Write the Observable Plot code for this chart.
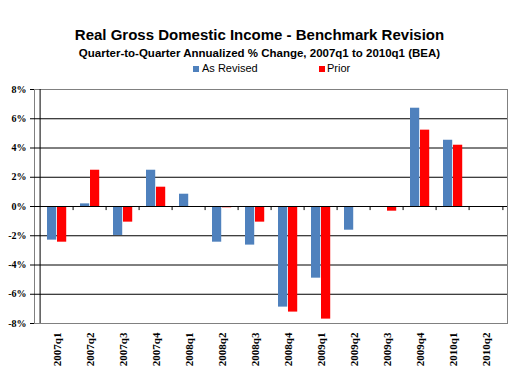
<!DOCTYPE html>
<html>
<head>
<meta charset="utf-8">
<script src="https://cdn.jsdelivr.net/npm/d3@7"></script>
<script src="https://cdn.jsdelivr.net/npm/@observablehq/plot@0.6"></script>
<style>
  html, body { margin: 0; padding: 0; background: #fff; }
  #wrap { position: relative; width: 516px; height: 376px; overflow: hidden; font-family: "Liberation Sans", Arial, sans-serif; }
  #head { position: relative; width: 516px; height: 80px; }
  .t { position: absolute; left: 0; width: 519px; text-align: center; white-space: nowrap; color: #000; }
  #title { top: 27.3px; font-size: 15px; line-height: 15px; font-weight: bold; }
  #sub { top: 48.3px; font-size: 11.5px; line-height: 11.5px; font-weight: bold; }
  .lg { position: absolute; font-size: 11px; line-height: 11px; top: 62.7px; white-space: nowrap; }
  .sw { position: absolute; width: 6px; height: 6px; top: 65.5px; }
  #chart svg { display: block; }
</style>
</head>
<body>
<div id="wrap">
  <div id="head">
    <div class="t" id="title">Real Gross Domestic Income - Benchmark Revision</div>
    <div class="t" id="sub">Quarter-to-Quarter Annualized % Change, 2007q1 to 2010q1 (BEA)</div>
    <div class="sw" style="left:193px;background:#4F81BD"></div>
    <div class="lg" style="left:202px">As Revised</div>
    <div class="sw" style="left:318.5px;background:#FF0000"></div>
    <div class="lg" style="left:327px">Prior</div>
  </div>
  <div id="chart"></div>
</div>
<script>
const quarters = ["2007q1","2007q2","2007q3","2007q4","2008q1","2008q2","2008q3","2008q4","2009q1","2009q2","2009q3","2009q4","2010q1","2010q2"];
const asRevised = [-2.30, 0.18, -1.98, 2.48, 0.84, -2.44, -2.64, -6.88, -4.90, -1.62, 0, 6.72, 4.53, null];
const prior = [-2.44, 2.48, -1.07, 1.32, 0, -0.09, -1.07, -7.22, -7.70, 0, -0.32, 5.22, 4.19, null];
const yTicks = [-8, -6, -4, -2, 0, 2, 4, 6, 8];
const gridTicks = [-6, -4, -2, 2, 4, 6];

const revRows = quarters.map((q, i) => ({q, v: asRevised[i]})).filter(d => d.v != null);
const priRows = quarters.map((q, i) => ({q, v: prior[i]})).filter(d => d.v != null);

const W = 516, ML = 34, MR = 9;
const bw = (W - ML - MR) / quarters.length;

const plot = Plot.plot({
  width: W,
  height: 296,
  marginLeft: ML,
  marginRight: MR,
  marginTop: 9,
  marginBottom: 53,
  style: {background: "#fff", color: "#000"},
  x: {type: "band", domain: quarters, padding: 0, label: null},
  y: {domain: [-8, 8], label: null},
  marks: [
    Plot.frame({stroke: "#808080"}),
    Plot.ruleY(gridTicks, {stroke: "#000", strokeWidth: 1}),
    Plot.barY(revRows, {x: "q", y: "v", fill: "#4F81BD", insetLeft: 7, insetRight: bw - 17}),
    Plot.barY(priRows, {x: "q", y: "v", fill: "#FF0000", insetLeft: 17, insetRight: bw - 27}),
    Plot.ruleY([0], {stroke: "#000", strokeWidth: 1}),
    Plot.ruleX(quarters.slice(1), {x: d => d, dx: -bw / 2, y1: 0, y2: -0.28, stroke: "#000"}),
    Plot.ruleX([quarters[quarters.length - 1]], {x: d => d, dx: bw / 2, y1: 0, y2: -0.28, stroke: "#000"}),
    Plot.ruleX([quarters[0]], {x: d => d, dx: -bw / 2, y1: -8, y2: 8, stroke: "#000"}),
    Plot.axisY({ticks: yTicks, tickFormat: d => d + "%", tickSize: 4, tickPadding: 4, stroke: "#000", label: null,
      fontFamily: "Liberation Serif, Times New Roman, serif", fontSize: 10, fontWeight: "bold", fill: "#000"}),
    Plot.axisX({tickSize: 0, tickPadding: 9, tickRotate: -90, label: null,
      fontFamily: "Liberation Serif, Times New Roman, serif", fontSize: 11, fontWeight: "bold", fill: "#000"})
  ]
});
document.getElementById("chart").appendChild(plot);
</script>
</body>
</html>
